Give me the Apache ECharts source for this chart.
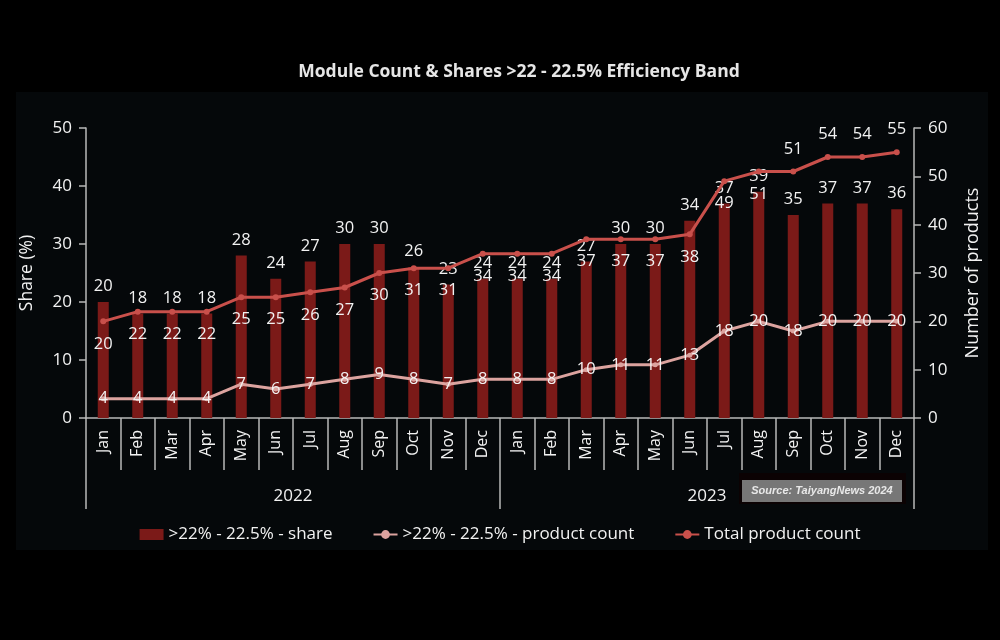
<!DOCTYPE html>
<html>
<head>
<meta charset="utf-8">
<script src="https://cdn.jsdelivr.net/npm/echarts@6/dist/echarts.min.js"></script>
<style>
  html, body { margin: 0; padding: 0; background: #000; }
  #chart { width: 1000px; height: 640px; }
</style>
</head>
<body>
<div id="chart"></div>
<script>
// data
const months = ["Jan", "Feb", "Mar", "Apr", "May", "Jun", "Jul", "Aug", "Sep", "Oct", "Nov", "Dec",
  "Jan", "Feb", "Mar", "Apr", "May", "Jun", "Jul", "Aug", "Sep", "Oct", "Nov", "Dec"];
const years = ["2022", "2023"];
const share = [20, 18, 18, 18, 28, 24, 27, 30, 30, 26, 23, 24,
  24, 24, 27, 30, 30, 34, 37, 39, 35, 37, 37, 36];
const bandCount = [4, 4, 4, 4, 7, 6, 7, 8, 9, 8, 7, 8,
  8, 8, 10, 11, 11, 13, 18, 20, 18, 20, 20, 20];
const totalCount = [20, 22, 22, 22, 25, 25, 26, 27, 30, 31, 31, 34,
  34, 34, 37, 37, 37, 38, 49, 51, 51, 54, 54, 55];
const shareTicks = [0, 50, 10];
const countTicks = [0, 60, 10];

const FONT = "Open Sans";
const AXIS_COLOR = "#b8b8b8";
const TEXT = "#f2f2f2";

const chart = echarts.init(document.getElementById("chart"));

// last four total-count labels sit above the line, the rest below
const totalData = totalCount.map((v, i) => ({
  value: v,
  label: { position: i >= 20 ? "top" : "bottom" }
}));

const options = {
  backgroundColor: "#000",
  textStyle: { fontFamily: FONT },
  title: {
    text: "Module Count & Shares >22 - 22.5% Efficiency Band",
    left: 514,
    top: 58,
    textAlign: "center",
    textStyle: { color: "#e6e6e6", fontSize: 17.5, fontWeight: "bold", fontFamily: FONT }
  },
  graphic: [
    {
      type: "rect", z: -10, silent: true,
      shape: { x: 16, y: 92, width: 972, height: 458 },
      style: { fill: "#05080a" }
    },
    {
      type: "rect", z: 100, silent: true,
      shape: { x: 739, y: 473, width: 167, height: 31 },
      style: { fill: "#0b0203" }
    },
    {
      type: "rect", z: 101, silent: true,
      shape: { x: 742, y: 480, width: 160, height: 22 },
      style: { fill: "#777777" }
    },
    {
      type: "text", z: 102, silent: true,
      x: 822, y: 491,
      style: {
        text: "Source: TaiyangNews 2024",
        fill: "#e8e8e8",
        font: "italic bold 11px 'Liberation Sans Narrow', 'Liberation Sans', sans-serif",
        align: "center",
        verticalAlign: "middle"
      }
    }
  ],
  legend: {
    top: 521,
    left: "center",
    itemWidth: 24,
    itemHeight: 11,
    itemGap: 40,
    textStyle: { color: TEXT, fontSize: 17, fontFamily: FONT },
    data: [
      { name: ">22% - 22.5% - share", icon: "rect" },
      ">22% - 22.5% - product count",
      "Total product count"
    ]
  },
  grid: { left: 86, right: 86, top: 128, bottom: 222 },
  xAxis: [
    {
      type: "category",
      data: months,
      position: "bottom",
      axisLine: { lineStyle: { color: AXIS_COLOR, width: 1.5 } },
      axisTick: { show: true, interval: 0, length: 52, lineStyle: { color: AXIS_COLOR, width: 1.5 } },
      axisLabel: { interval: 0, rotate: 90, margin: 12, color: TEXT, fontSize: 16, fontFamily: FONT }
    },
    {
      type: "category",
      data: years,
      position: "bottom",
      axisLine: { show: false },
      axisTick: { show: true, interval: 0, length: 91, lineStyle: { color: AXIS_COLOR, width: 1.5 } },
      axisLabel: { margin: 70, color: TEXT, fontSize: 17, fontFamily: FONT }
    }
  ],
  yAxis: [
    {
      type: "value",
      min: shareTicks[0], max: shareTicks[1], interval: shareTicks[2],
      name: "Share (%)",
      nameLocation: "middle",
      nameGap: 50,
      nameTextStyle: { color: TEXT, fontSize: 17.5, fontFamily: FONT },
      axisLine: { show: true, lineStyle: { color: AXIS_COLOR, width: 1.5 } },
      axisTick: { show: true, length: 7, lineStyle: { color: AXIS_COLOR, width: 1.5 } },
      axisLabel: { margin: 14, color: TEXT, fontSize: 17, fontFamily: FONT },
      splitLine: { show: false }
    },
    {
      type: "value",
      min: countTicks[0], max: countTicks[1], interval: countTicks[2],
      name: "Number of products",
      nameLocation: "middle",
      nameGap: 50,
      nameRotate: 90,
      nameTextStyle: { color: TEXT, fontSize: 18, fontFamily: FONT },
      axisLine: { show: true, lineStyle: { color: AXIS_COLOR, width: 1.5 } },
      axisTick: { show: true, length: 7, lineStyle: { color: AXIS_COLOR, width: 1.5 } },
      axisLabel: { margin: 14, color: TEXT, fontSize: 17, fontFamily: FONT },
      splitLine: { show: false }
    }
  ],
  series: [
    {
      name: ">22% - 22.5% - share",
      type: "bar",
      yAxisIndex: 0,
      data: share,
      barWidth: 11,
      itemStyle: { color: "#7b1a18" },
      label: { show: true, position: "top", distance: 7, color: TEXT, fontSize: 16.5, fontFamily: FONT },
      z: 2
    },
    {
      name: ">22% - 22.5% - product count",
      type: "line",
      yAxisIndex: 1,
      data: bandCount,
      symbol: "circle",
      symbolSize: 5,
      lineStyle: { color: "#dca39f", width: 3 },
      itemStyle: { color: "#dca39f" },
      label: { show: true, position: "inside", color: TEXT, fontSize: 16.5, fontFamily: FONT },
      z: 4
    },
    {
      name: "Total product count",
      type: "line",
      yAxisIndex: 1,
      data: totalData,
      symbol: "circle",
      symbolSize: 6,
      lineStyle: { color: "#c9504b", width: 3 },
      itemStyle: { color: "#c9504b" },
      label: { show: true, distance: 11, color: TEXT, fontSize: 16.5, fontFamily: FONT },
      z: 3
    }
  ]
};

chart.setOption(options);
</script>
</body>
</html>
